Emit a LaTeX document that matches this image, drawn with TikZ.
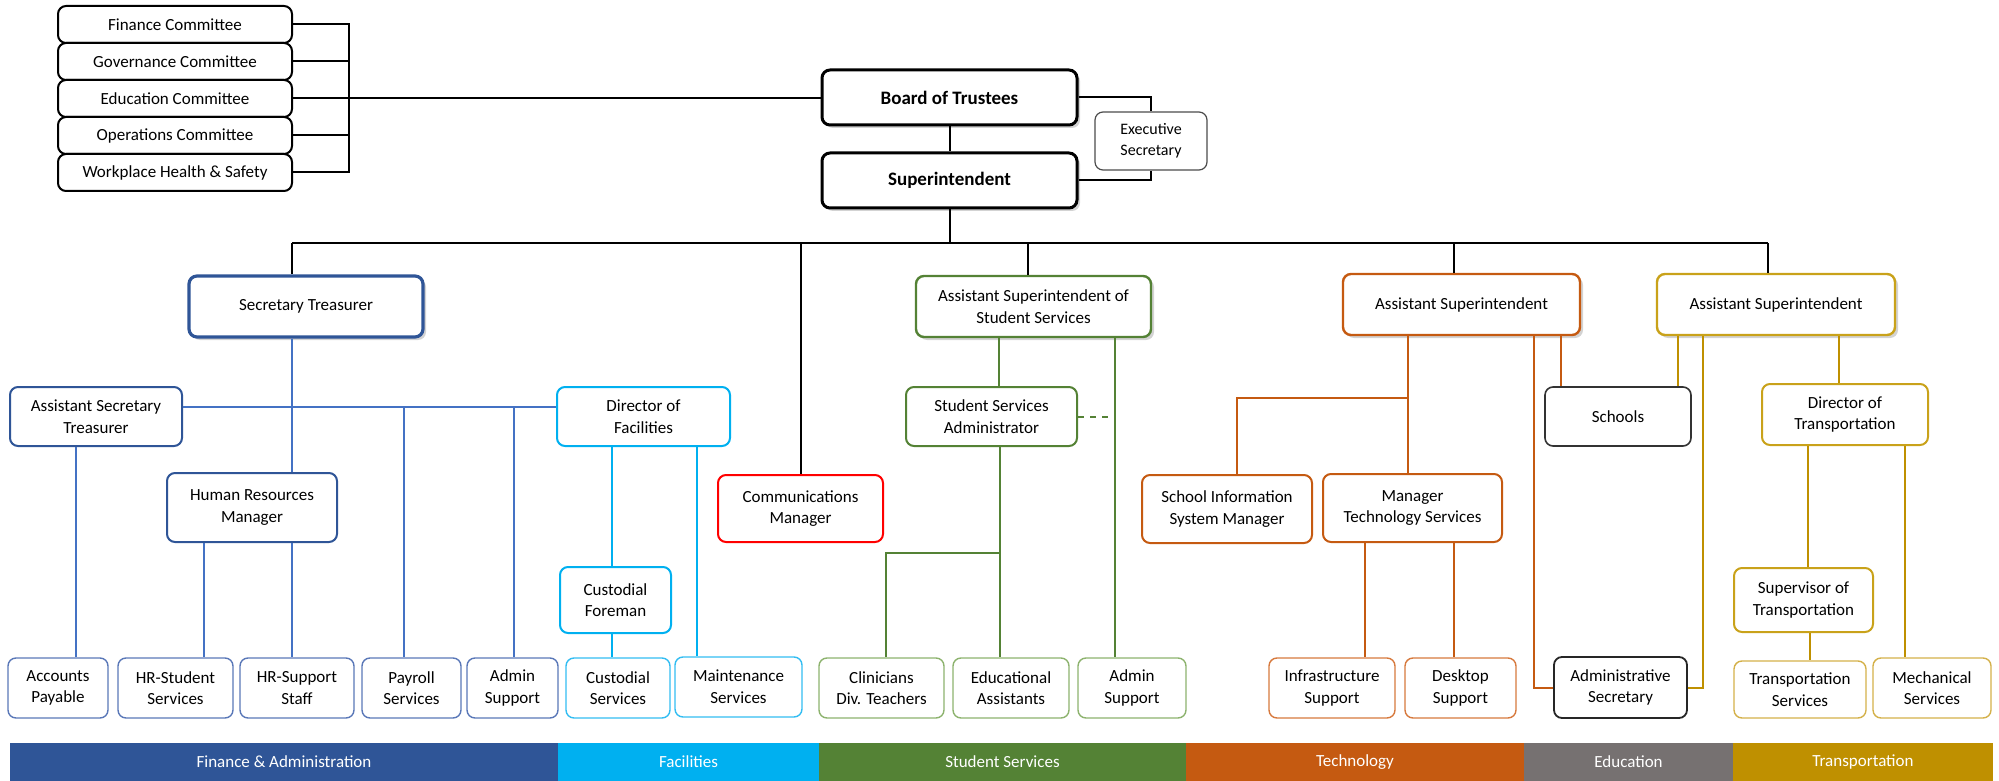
\documentclass[tikz,border=0pt]{standalone}
\usepackage{fontspec}
\setmainfont{Carlito}
\usepackage{tikz}
\usetikzlibrary{shadows}
\definecolor{finb}{HTML}{2F5597}
\definecolor{finl}{HTML}{4472C4}
\definecolor{finleaf}{HTML}{5A78B8}
\definecolor{facc}{HTML}{00B0F0}
\definecolor{facleaf}{HTML}{33BDF2}
\definecolor{stud}{HTML}{548235}
\definecolor{studleaf}{HTML}{8DB36E}
\definecolor{tech}{HTML}{C55A11}
\definecolor{techleaf}{HTML}{D77A3E}
\definecolor{trans}{HTML}{BF9000}
\definecolor{transbox}{HTML}{C9A21A}
\definecolor{transleaf}{HTML}{D4B14A}
\definecolor{edu}{HTML}{767171}

\begin{document}
\begin{tikzpicture}[x=0.5pt, y=-0.5pt,
	box/.style={draw, fill=white, rounded corners=4pt, align=center, inner sep=2pt, font=\fontsize{8.5}{10.8}\selectfont},
	cbox/.style={box, line width=1pt, minimum width=117pt, minimum height=18.5pt},
	topbox/.style={box, line width=1.5pt, minimum width=127.5pt, minimum height=27.5pt, font=\fontsize{9.5}{11}\selectfont\bfseries, drop shadow={shadow xshift=1.5pt, shadow yshift=-1.5pt, opacity=.35}},
	headbox/.style={box, line width=1.2pt, minimum height=30.5pt, drop shadow={shadow xshift=1.5pt, shadow yshift=-1.5pt, opacity=.35}},
	midbox/.style={box, line width=1pt},
	leaf/.style={box, line width=.7pt, minimum height=30pt},
	bar/.style={fill=#1, text=white, inner sep=0pt, outer sep=0pt, minimum height=19pt, font=\fontsize{8.5}{10}\selectfont},
	blk/.style={line width=1pt},
	finline/.style={line width=1pt, finl},
	facline/.style={line width=1pt, facc},
	studline/.style={line width=1pt, stud},
	techline/.style={line width=1pt, tech},
	transline/.style={line width=1pt, trans}]
	\useasboundingbox (0,0) rectangle (1999,781);

	\node[cbox] (fin) at (175,24.5) {Finance Committee};
	\node[cbox] (gov) at (175,61.5) {Governance Committee};
	\node[cbox] (educ) at (175,98.5) {Education Committee};
	\node[cbox] (ops) at (175,135.5) {Operations Committee};
	\node[cbox] (whs) at (175,172.5) {Workplace Health \& Safety};

	\node[topbox] (board) at (949.5,97.5) {Board of Trustees};
	\node[topbox] (super) at (949.5,180.5) {Superintendent};
	\node[box, draw=black!70, line width=.6pt, minimum width=56pt, minimum height=29pt, font=\fontsize{8}{10.3}\selectfont] (exec) at (1151,141) {Executive\\Secretary};

	\node[headbox, draw=finb, line width=1.6pt, minimum width=117pt] (sectr) at (306,306.5) {Secretary Treasurer};
	\node[midbox, draw=finb, minimum width=86pt, minimum height=29.5pt] (ast) at (96,416.5) {Assistant Secretary\\Treasurer};
	\node[midbox, draw=finb, minimum width=85pt, minimum height=34.5pt] (hrm) at (252,507.5) {Human Resources\\Manager};
	\node[midbox, draw=facc, minimum width=86.5pt, minimum height=29.5pt] (dirfac) at (643.5,416.5) {Director of\\Facilities};
	\node[midbox, draw=facc, minimum width=55.5pt, minimum height=33pt] (custf) at (615.5,600) {Custodial\\Foreman};
	\node[midbox, draw=red, minimum width=82.5pt, minimum height=33.5pt] (comm) at (800.5,508.5) {Communications\\Manager};

	\node[headbox, draw=stud, minimum width=117.5pt] (asss) at (1033.5,306.5) {Assistant Superintendent of\\Student Services};
	\node[midbox, draw=stud, minimum width=85.5pt, minimum height=29.5pt] (ssa) at (991.5,416.5) {Student Services\\Administrator};

	\node[headbox, draw=tech, minimum width=118.5pt] (oas) at (1461.5,304.5) {Assistant Superintendent};
	\node[midbox, draw=tech, minimum width=85pt, minimum height=34pt] (sism) at (1227,509) {School Information\\System Manager};
	\node[midbox, draw=tech, minimum width=89.5pt, minimum height=34pt] (mts) at (1412.5,508) {Manager\\Technology Services};

	\node[headbox, draw=transbox, minimum width=119pt] (gas) at (1776,304.5) {Assistant Superintendent};
	\node[midbox, draw=black!80, line width=.8pt, minimum width=73pt, minimum height=29.5pt] (schools) at (1618,416.5) {Schools};
	\node[midbox, draw=transbox, minimum width=83pt, minimum height=30.5pt] (dirt) at (1845,414.5) {Director of\\Transportation};
	\node[midbox, draw=transbox, minimum width=69.5pt, minimum height=32pt] (supt) at (1803.5,600) {Supervisor of\\Transportation};

	\node[leaf, draw=finleaf, minimum width=50pt] (ap) at (58,688) {Accounts\\Payable};
	\node[leaf, draw=finleaf, minimum width=57.5pt] (hrss) at (175.5,688) {HR-Student\\Services};
	\node[leaf, draw=finleaf, minimum width=57pt] (hrsup) at (297,688) {HR-Support\\Staff};
	\node[leaf, draw=finleaf, minimum width=49.5pt] (pay) at (411.5,688) {Payroll\\Services};
	\node[leaf, draw=finleaf, minimum width=45.5pt] (admf) at (512.5,688) {Admin\\Support};
	\node[leaf, draw=facleaf, minimum width=52pt] (custs) at (618,688) {Custodial\\Services};
	\node[leaf, draw=facleaf, minimum width=63.5pt] (maint) at (738.5,687) {Maintenance\\Services};
	\node[leaf, draw=studleaf, minimum width=62.5pt] (clin) at (881.5,688) {Clinicians\\Div. Teachers};
	\node[leaf, draw=studleaf, minimum width=58pt] (eda) at (1011,688) {Educational\\Assistants};
	\node[leaf, draw=studleaf, minimum width=54pt] (adms) at (1132,688) {Admin\\Support};
	\node[leaf, draw=techleaf, minimum width=63pt] (infra) at (1332,688) {Infrastructure\\Support};
	\node[leaf, draw=techleaf, minimum width=55.5pt] (desk) at (1460.5,688) {Desktop\\Support};
	\node[leaf, draw=black!85, line width=.9pt, minimum width=66.5pt, minimum height=30.5pt] (admsec) at (1620.5,687.5) {Administrative\\Secretary};
	\node[leaf, draw=transleaf, minimum width=66pt, minimum height=28.5pt] (transs) at (1800,689.5) {Transportation\\Services};
	\node[leaf, draw=transleaf, minimum width=59pt] (mech) at (1932,688) {Mechanical\\Services};

	\node[bar=finb, minimum width=274pt] (bfin) at (284,762) {Finance \& Administration};
	\node[bar=facc, minimum width=130.5pt] (bfac) at (688.5,762) {Facilities};
	\node[bar=stud, minimum width=183.5pt] (bstud) at (1002.5,762) {Student Services};
	\node[bar=tech, minimum width=169pt] (btech) at (1355,762) {Technology};
	\node[bar=edu, minimum width=104.5pt] (bedu) at (1628.5,762) {Education};
	\node[bar=trans, minimum width=130pt] (btrans) at (1863,762) {Transportation};

	\coordinate (tl) at (292,243);
	\coordinate (tr) at (1768,243);
	\draw[blk] (fin.east) -- (349,0 |- fin.east) -- (349,0 |- whs.east) -- (whs.east);
	\draw[blk] (gov.east) -- (349,0 |- gov.east);
	\draw[blk] (ops.east) -- (349,0 |- ops.east);
	\draw[blk] (educ.east) -- (educ.east -| board.west);
	\draw[blk] (board.east) -| (exec.north);
	\draw[blk] (super.east) -| (exec.south);
	\draw[blk] (board.south) -- (super.north);
	\draw[blk] (super.south) -- (super.south |- tl);
	\draw[blk] (tl) -- (tr);
	\draw[blk] (tl) -- (tl |- sectr.north);
	\draw[blk] (comm.north |- tl) -- (comm.north);
	\draw[blk] (1028,0 |- tl) -- (1028,0 |- asss.north);
	\draw[blk] (1454,0 |- tl) -- (1454,0 |- oas.north);
	\draw[blk] (tr) -- (tr |- gas.north);

	\draw[finline] (tl |- sectr.south) -- (tl |- hrm.north);
	\draw[finline] (ast.east |- 0,407) -- (dirfac.west |- 0,407);
	\draw[finline] (404,407) -- (404,0 |- pay.north);
	\draw[finline] (514,407) -- (514,0 |- admf.north);
	\draw[finline] (76,0 |- ast.south) -- (76,0 |- ap.north);
	\draw[finline] (204,0 |- hrm.south) -- (204,0 |- hrss.north);
	\draw[finline] (tl |- hrm.south) -- (tl |- hrsup.north);

	\draw[facline] (612,0 |- dirfac.south) -- (612,0 |- custf.north);
	\draw[facline] (612,0 |- custf.south) -- (612,0 |- custs.north);
	\draw[facline] (697,0 |- dirfac.south) -- (697,0 |- maint.north);

	\draw[studline] (999,0 |- asss.south) -- (999,0 |- ssa.north);
	\draw[studline] (1115,0 |- asss.south) -- (1115,0 |- adms.north);
	\draw[studline, dashed] (ssa.east) -- (1115,0 |- ssa.east);
	\draw[studline] (1000,0 |- ssa.south) -- (1000,0 |- eda.north);
	\draw[studline] (1000,553) -| (886,0 |- clin.north);

	\draw[techline] (1408,0 |- oas.south) -- (1408,0 |- mts.north);
	\draw[techline] (1408,398) -| (1237,0 |- sism.north);
	\draw[techline] (1534,0 |- oas.south) |- (admsec.west);
	\draw[techline] (1561,0 |- oas.south) -- (1561,0 |- schools.north);
	\draw[techline] (1365,0 |- mts.south) -- (1365,0 |- infra.north);
	\draw[techline] (1454,0 |- mts.south) -- (1454,0 |- desk.north);

	\draw[transline] (1678,0 |- gas.south) -- (1678,0 |- schools.north);
	\draw[transline] (1703,0 |- gas.south) |- (admsec.east);
	\draw[transline] (1839,0 |- gas.south) -- (1839,0 |- dirt.north);
	\draw[transline] (1808,0 |- dirt.south) -- (1808,0 |- supt.north);
	\draw[transline] (1905,0 |- dirt.south) -- (1905,0 |- mech.north);
	\draw[transline] (1810,0 |- supt.south) -- (1810,0 |- transs.north);
\end{tikzpicture}
\end{document}
